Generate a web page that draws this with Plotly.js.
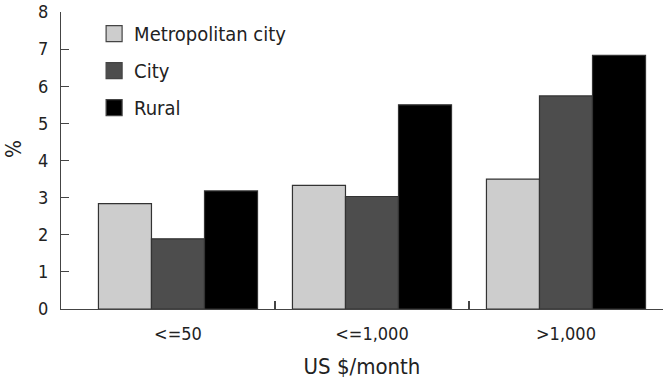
<!DOCTYPE html>
<html>
<head>
<meta charset="utf-8">
<script src="https://cdn.plot.ly/plotly-3.0.1.min.js"></script>
<style>html,body{margin:0;padding:0;background:#fff;}#chart{width:668px;height:382px;}</style>
</head>
<body>
<div id="chart"></div>
<script>
const categories = ["<=50", "<=1,000", ">1,000"];
const seriesNames = ["Metropolitan city", "City", "Rural"];
const metropolitan = [2.84, 3.33, 3.5];
const city = [1.89, 3.03, 5.74];
const rural = [3.18, 5.5, 6.83];
const colors = ["#cdcdcd", "#4d4d4d", "#000000"];
const yTicks = [0, 1, 2, 3, 4, 5, 6, 7, 8];
const boundaryTicks = [0.5, 1.5, 2.499];

const values = [metropolitan, city, rural];
const FAM = "'DejaVu Sans Condensed', 'DejaVu Sans', sans-serif";
const tickFont = {family: FAM, size: 18, color: "#222"};
const legendFont = {family: FAM, size: 20, color: "#222"};

const traces = values.map((v, i) => ({
  type: "bar",
  name: seriesNames[i],
  x: categories,
  y: v,
  showlegend: false,
  marker: {color: colors[i], line: {color: "#333", width: 1.2}},
  hoverinfo: "skip"
}));
// legend entries (no visible marks in plot)
values.forEach((v, i) => {
  traces.push({
    type: "scatter", mode: "markers", name: seriesNames[i],
    x: [categories[0]], y: [null], legendgroup: "g" + i,
    marker: {symbol: "square", size: 16, color: colors[i], line: {color: "#444", width: 1.2}},
    hoverinfo: "skip"
  });
});
traces.push({
  type: "scatter", x: boundaryTicks, y: [0, 0, 0], xaxis: "x2", yaxis: "y",
  mode: "markers", marker: {opacity: 0}, showlegend: false, hoverinfo: "skip"
});

const layout = {
  width: 668, height: 382,
  margin: {l: 61, r: 5, t: 12, b: 73},
  paper_bgcolor: "#fff", plot_bgcolor: "#fff",
  font: tickFont,
  barmode: "group",
  bargap: 0.18,
  bargroupgap: 0,
  showlegend: true,
  legend: {
    x: 0.055, y: 0.993, xanchor: "left", yanchor: "top",
    font: legendFont, traceorder: "grouped", tracegroupgap: 8,
    itemsizing: "trace", itemwidth: 30,
    bgcolor: "rgba(0,0,0,0)"
  },
  xaxis: {
    type: "category",
    range: [-0.603, 2.5],
    showline: true, linecolor: "#444", linewidth: 1.2,
    ticks: "", showgrid: false, zeroline: false,
    tickfont: tickFont, ticklabelstandoff: 8,
    title: {text: "US $/month", font: {family: FAM, size: 22, color: "#222"}, standoff: 15}
  },
  xaxis2: {
    type: "linear", overlaying: "x", side: "bottom",
    range: [-0.603, 2.5],
    tickvals: boundaryTicks, ticks: "inside", ticklen: 8, tickwidth: 1.2, tickcolor: "#444",
    showticklabels: false, showgrid: false, zeroline: false, showline: false
  },
  yaxis: {
    range: [0, 8],
    tickvals: yTicks,
    showline: true, linecolor: "#444", linewidth: 1.2,
    ticks: "inside", ticklen: 8, tickwidth: 1.2, tickcolor: "#444",
    showgrid: false, zeroline: false,
    tickfont: tickFont, ticklabelstandoff: 8
  },
  annotations: [{
    text: "%", xref: "paper", yref: "paper",
    x: -0.079, y: 0.54, xanchor: "center", yanchor: "middle",
    textangle: -90, showarrow: false, borderpad: 0,
    font: {family: FAM, size: 21, color: "#222"}
  }]
};

Plotly.newPlot("chart", traces, layout, {displayModeBar: false, staticPlot: true});
</script>
</body>
</html>
